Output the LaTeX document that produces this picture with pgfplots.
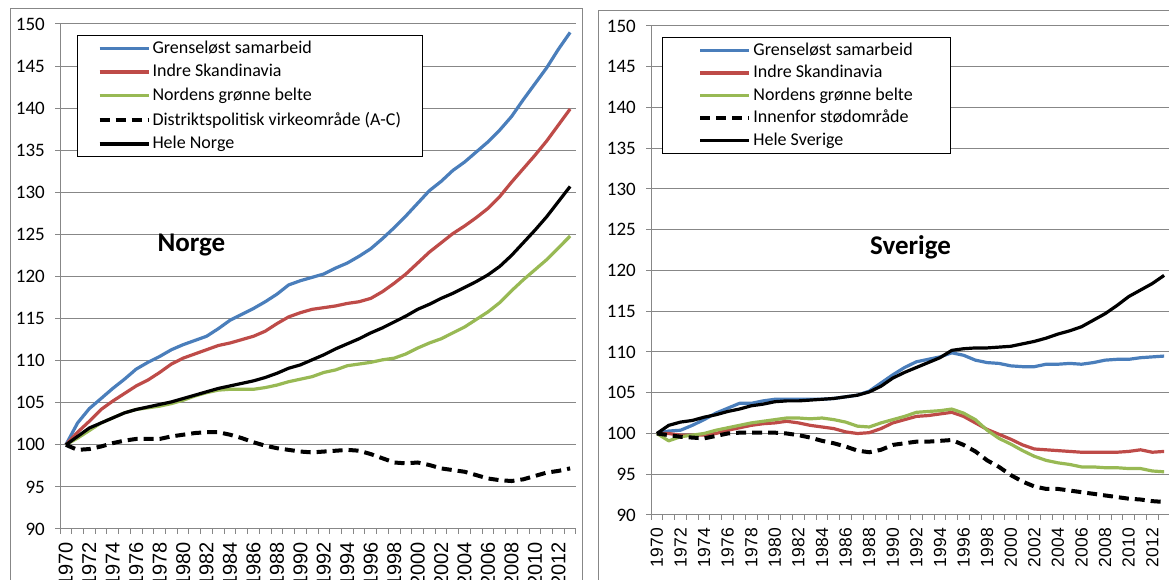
\documentclass[border=0pt]{standalone}
\usepackage{fontspec}
\setmainfont{Carlito}
\newfontfamily\arialf{Liberation Sans}
\usepackage{pgfplots}
\usepackage{pgfplotstable}
\pgfplotsset{compat=1.18}
\definecolor{xblue}{HTML}{4A7EBB}
\definecolor{xred}{HTML}{BE4B48}
\definecolor{xgreen}{HTML}{98B954}
\definecolor{axgray}{HTML}{878787}

\pgfplotstableread{
year blue red green dash black
1970 100 100 100 100 100
1971 102.6 101.5 100.8 99.4 101.0
1972 104.3 102.8 101.7 99.5 102.0
1973 105.5 104.2 102.6 99.8 102.6
1974 106.7 105.2 103.2 100.2 103.2
1975 107.8 106.1 103.8 100.5 103.8
1976 109.0 107.0 104.2 100.7 104.2
1977 109.8 107.7 104.4 100.7 104.5
1978 110.5 108.6 104.6 100.7 104.8
1979 111.3 109.6 104.9 101.0 105.1
1980 111.9 110.3 105.3 101.2 105.5
1981 112.4 110.8 105.8 101.4 105.9
1982 112.9 111.3 106.2 101.5 106.3
1983 113.8 111.8 106.5 101.5 106.7
1984 114.8 112.1 106.6 101.2 107.0
1985 115.5 112.5 106.6 100.8 107.3
1986 116.2 112.9 106.6 100.3 107.6
1987 117.0 113.5 106.8 99.9 108.0
1988 117.9 114.4 107.1 99.6 108.5
1989 119.0 115.2 107.5 99.4 109.1
1990 119.5 115.7 107.8 99.2 109.5
1991 119.9 116.1 108.1 99.1 110.1
1992 120.3 116.3 108.6 99.2 110.7
1993 121.0 116.5 108.9 99.3 111.4
1994 121.6 116.8 109.4 99.4 112.0
1995 122.4 117.0 109.6 99.3 112.6
1996 123.3 117.4 109.8 98.9 113.3
1997 124.5 118.2 110.1 98.4 113.9
1998 125.8 119.2 110.3 97.9 114.6
1999 127.2 120.3 110.8 97.8 115.3
2000 128.7 121.6 111.5 97.9 116.1
2001 130.2 122.9 112.1 97.6 116.7
2002 131.3 124.0 112.6 97.2 117.4
2003 132.6 125.1 113.3 97.0 118.0
2004 133.6 126.0 114.0 96.8 118.7
2005 134.8 127.0 114.9 96.4 119.4
2006 136.0 128.1 115.8 96.0 120.2
2007 137.4 129.5 116.9 95.8 121.2
2008 139.0 131.2 118.3 95.7 122.5
2009 141.0 132.8 119.6 95.9 124.0
2010 142.9 134.4 120.8 96.3 125.5
2011 144.8 136.1 122.0 96.7 127.1
2012 147.0 138.0 123.4 96.9 128.9
2013 149.0 139.9 124.8 97.2 130.7
}\norge

\pgfplotstableread{
year blue red green dash black
1970 100 100 100 100 100
1971 100.3 100.0 99.1 99.8 101.0
1972 100.4 99.8 99.6 99.6 101.4
1973 101.0 99.8 99.8 99.5 101.6
1974 101.7 99.8 100.0 99.4 102.0
1975 102.5 100.0 100.4 99.7 102.3
1976 103.1 100.4 100.7 100.0 102.7
1977 103.7 100.7 101.0 100.1 103.0
1978 103.7 101.0 101.3 100.1 103.4
1979 104.0 101.2 101.5 100.1 103.6
1980 104.2 101.3 101.7 100.1 103.9
1981 104.2 101.5 101.9 100.0 104.0
1982 104.2 101.3 101.9 99.8 104.0
1983 104.2 101.0 101.8 99.5 104.1
1984 104.2 100.8 101.9 99.1 104.2
1985 104.3 100.6 101.7 98.8 104.3
1986 104.5 100.2 101.4 98.4 104.5
1987 104.7 100.0 100.9 97.9 104.7
1988 105.2 100.1 100.8 97.7 105.1
1989 106.2 100.6 101.3 98.0 105.8
1990 107.2 101.3 101.7 98.6 106.8
1991 108.1 101.7 102.1 98.8 107.5
1992 108.8 102.1 102.6 99.0 108.1
1993 109.1 102.2 102.7 99.0 108.7
1994 109.4 102.4 102.8 99.1 109.3
1995 109.9 102.6 103.0 99.2 110.2
1996 109.6 102.1 102.5 98.6 110.4
1997 109.0 101.3 101.7 97.8 110.5
1998 108.7 100.5 100.4 96.7 110.5
1999 108.6 99.9 99.4 95.9 110.6
2000 108.3 99.3 98.7 94.9 110.7
2001 108.2 98.6 97.9 94.1 111.0
2002 108.2 98.1 97.2 93.5 111.3
2003 108.5 98.0 96.7 93.2 111.7
2004 108.5 97.9 96.4 93.2 112.2
2005 108.6 97.8 96.2 93.0 112.6
2006 108.5 97.7 95.9 92.8 113.1
2007 108.7 97.7 95.9 92.6 113.9
2008 109.0 97.7 95.8 92.4 114.7
2009 109.1 97.7 95.8 92.2 115.7
2010 109.1 97.8 95.7 92.0 116.8
2011 109.3 98.0 95.7 91.9 117.6
2012 109.4 97.7 95.4 91.7 118.4
2013 109.5 97.8 95.3 91.6 119.4
}\sverige

\pgfplotsset{
  excel/.style={
    scale only axis,
    xmin=1969.5, xmax=2013.5, ymin=90, ymax=150,
    ytick={90,95,...,150},
    xtick={1970,1972,...,2012},
    xticklabels={1970,1972,1974,1976,1978,1980,1982,1984,1986,1988,1990,1992,1994,1996,1998,2000,2002,2004,2006,2008,2010,2012},
    minor xtick={1969.5,1970.5,...,2013.6},
    axis x line*=bottom, axis y line*=left,
    axis line style={draw=axgray, line width=1pt, -},
    ymajorgrids, major grid style={draw=axgray, line width=1pt},
    tick align=outside,
    major tick length=5pt, minor tick length=5pt,
    major x tick style={draw=none},
    minor x tick style={draw=axgray, line width=1pt},
    major y tick style={draw=axgray, line width=1pt},
    /pgf/number format/assume math mode=true,
    xticklabel style={rotate=90, anchor=east, inner sep=0pt},
    yticklabel style={inner sep=0pt, font=\fontsize{19pt}{22pt}\selectfont},
    xticklabel shift=8pt,
    yticklabel shift=10pt,
    legend cell align=left,
    legend image code/.code={\draw[##1] (0pt,0pt) -- (49pt,0pt);},
  },
  sl/.style={line width=3.2pt, line join=round},
  dl/.style={line width=4pt, black, dash pattern=on 10pt off 6pt},
}

\begin{document}
\fontsize{18pt}{21pt}\selectfont
\begin{tikzpicture}
\path (0pt,0pt) rectangle (1169pt,580pt);
\begin{scope}[overlay]
\draw[axgray, line width=1pt] (10pt,571pt) rectangle (582pt,-20pt);
\draw[axgray, line width=1pt] (598pt,569pt) rectangle (1190pt,-20pt);

\begin{axis}[excel,
  at={(60pt,51pt)}, anchor=south west,
  width=516pt, height=505pt,
  xticklabel style={font=\arialf\fontsize{20pt}{24pt}\selectfont},
  legend style={at={(0.033,0.978)}, anchor=north west, draw=black, line width=1pt,
    inner xsep=20pt, inner ysep=3pt, row sep=4.6pt,
    nodes={inner sep=2pt}},
]
\addplot[sl, xblue] table[x=year, y=blue] {\norge};
\addlegendentry{Grenseløst samarbeid}
\addplot[sl, xred] table[x=year, y=red] {\norge};
\addlegendentry{Indre Skandinavia}
\addplot[sl, xgreen] table[x=year, y=green] {\norge};
\addlegendentry{Nordens grønne belte}
\addplot[dl] table[x=year, y=dash] {\norge};
\addlegendentry{Distriktspolitisk virkeområde (A-C)}
\addplot[sl, black] table[x=year, y=black] {\norge};
\addlegendentry{Hele Norge}
\node[font=\fontsize{27pt}{31pt}\selectfont\bfseries] at (axis cs:1980.7,123.7) {Norge};
\end{axis}

\begin{axis}[excel,
  at={(651pt,65pt)}, anchor=south west,
  width=519pt, height=489pt,
  xticklabel style={font=\arialf\fontsize{17.5pt}{21pt}\selectfont},
  legend style={at={(0.021,0.9775)}, anchor=north west, draw=black, line width=1pt,
    inner xsep=36pt, inner ysep=3.5pt, row sep=3.2pt,
    nodes={inner sep=2pt}},
]
\addplot[sl, xblue] table[x=year, y=blue] {\sverige};
\addlegendentry{Grenseløst samarbeid}
\addplot[sl, xred] table[x=year, y=red] {\sverige};
\addlegendentry{Indre Skandinavia}
\addplot[sl, xgreen] table[x=year, y=green] {\sverige};
\addlegendentry{Nordens grønne belte}
\addplot[dl] table[x=year, y=dash] {\sverige};
\addlegendentry{Innenfor stødområde}
\addplot[sl, black] table[x=year, y=black] {\sverige};
\addlegendentry{Hele Sverige}
\node[font=\fontsize{27pt}{31pt}\selectfont\bfseries] at (axis cs:1991.5,122.8) {Sverige};
\end{axis}
\end{scope}
\end{tikzpicture}
\end{document}
